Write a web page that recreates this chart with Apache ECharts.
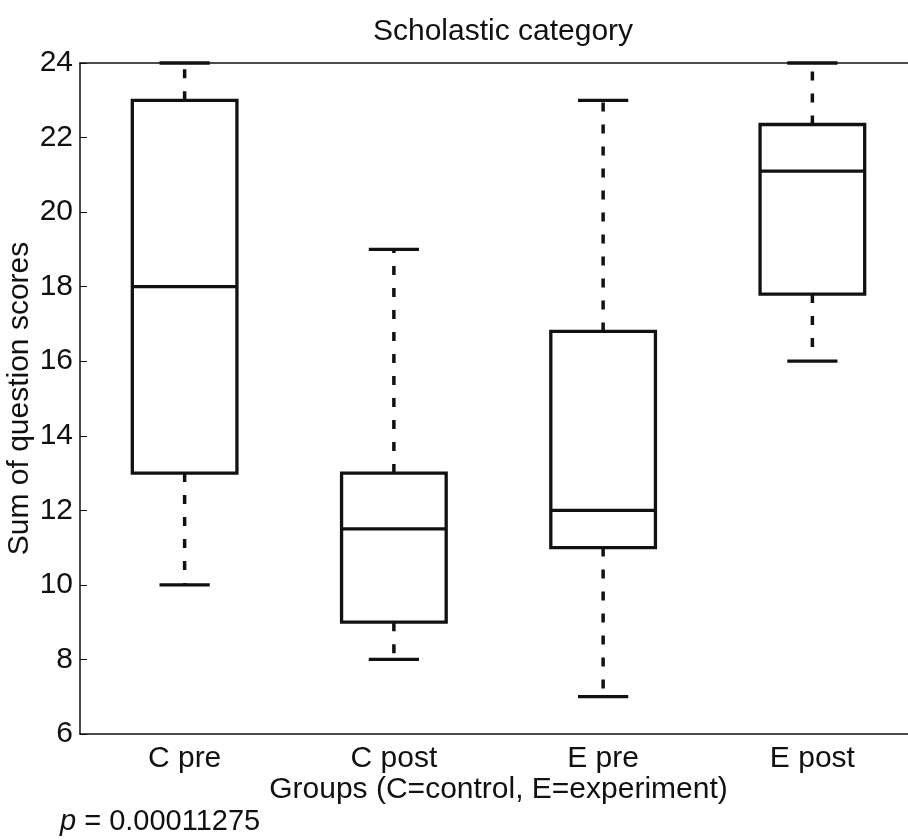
<!DOCTYPE html>
<html>
<head>
<meta charset="utf-8">
<script src="https://cdn.jsdelivr.net/npm/echarts@6/dist/echarts.min.js"></script>
<style>html,body{margin:0;padding:0;background:#fff;}#chart{width:908px;height:840px;}</style>
</head>
<body>
<div id="chart"></div>
<script>
var categories = ['C pre', 'C post', 'E pre', 'E post'];
var lowerWhisker = [10, 8, 7, 16];
var q1 = [13, 9, 11, 17.8];
var median = [18, 11.5, 12, 21.1];
var q3 = [23, 13, 16.8, 22.35];
var upperWhisker = [24, 19, 23, 24];
var yTicks = [6, 8, 10, 12, 14, 16, 18, 20, 22, 24];
var pText = '0.00011275';

var FONT = 'Liberation Sans, Arial, Helvetica, sans-serif';
var INK = '#111';

var data = categories.map(function (c, i) {
  return [i, lowerWhisker[i], q1[i], median[i], q3[i], upperWhisker[i]];
});

var chart = echarts.init(document.getElementById('chart'), null, {renderer: 'canvas'});

function renderBox(params, api) {
  var idx = api.value(0);
  var band = api.size([1, 0])[0];
  var half = band * 0.25;
  var capHalf = band * 0.12;
  var pLow = api.coord([idx, api.value(1)]);
  var pQ1 = api.coord([idx, api.value(2)]);
  var pMed = api.coord([idx, api.value(3)]);
  var pQ3 = api.coord([idx, api.value(4)]);
  var pHigh = api.coord([idx, api.value(5)]);
  var x = pQ1[0];
  var solid = {stroke: INK, lineWidth: 3.3, fill: null};
  var dashed = {stroke: INK, lineWidth: 3.5, lineDash: [9, 13], fill: null};
  return {
    type: 'group',
    children: [
      {type: 'line', shape: {x1: x, y1: pQ3[1], x2: x, y2: pHigh[1]}, style: dashed},
      {type: 'line', shape: {x1: x, y1: pQ1[1], x2: x, y2: pLow[1]}, style: dashed},
      {type: 'line', shape: {x1: x - capHalf, y1: pHigh[1], x2: x + capHalf, y2: pHigh[1]}, style: solid},
      {type: 'line', shape: {x1: x - capHalf, y1: pLow[1], x2: x + capHalf, y2: pLow[1]}, style: solid},
      {type: 'rect', shape: {x: x - half, y: pQ3[1], width: half * 2, height: pQ1[1] - pQ3[1]}, style: solid},
      {type: 'line', shape: {x1: x - half, y1: pMed[1], x2: x + half, y2: pMed[1]}, style: solid}
    ]
  };
}

var option = {
  backgroundColor: '#ffffff',
  animation: false,
  title: {
    text: 'Scholastic category',
    left: 498,
    top: 12,
    textAlign: 'center',
    textStyle: {fontFamily: FONT, fontSize: 30, fontWeight: 'normal', color: INK}
  },
  grid: {left: 80, top: 63, width: 837, height: 671, containLabel: false, outerBoundsMode: 'none'},
  xAxis: [{
    type: 'category',
    data: categories,
    boundaryGap: true,
    position: 'bottom',
    name: 'Groups (C=control, E=experiment)',
    nameLocation: 'middle',
    nameGap: 41,
    nameMoveOverlap: false,
    nameTextStyle: {fontFamily: FONT, fontSize: 30, color: INK},
    axisLine: {lineStyle: {color: INK, width: 1.5}},
    axisTick: {inside: true, length: 7, alignWithLabel: true, lineStyle: {color: INK, width: 1}},
    axisLabel: {fontFamily: FONT, fontSize: 30, color: INK, margin: 10, interval: 0},
    splitLine: {show: false}
  }, {
    type: 'category',
    data: categories,
    boundaryGap: true,
    position: 'top',
    axisLine: {lineStyle: {color: INK, width: 1.5}},
    axisTick: {inside: true, length: 7, alignWithLabel: true, lineStyle: {color: INK, width: 1}},
    axisLabel: {show: false},
    splitLine: {show: false}
  }],
  yAxis: [{
    type: 'value',
    min: yTicks[0],
    max: yTicks[yTicks.length - 1],
    interval: 2,
    name: 'Sum of question scores',
    nameLocation: 'middle',
    nameGap: 45,
    nameRotate: 90,
    nameMoveOverlap: false,
    nameTextStyle: {fontFamily: FONT, fontSize: 30, color: INK},
    axisLine: {show: true, lineStyle: {color: INK, width: 1.5}},
    axisTick: {show: true, inside: true, length: 7, lineStyle: {color: INK, width: 1}},
    axisLabel: {fontFamily: FONT, fontSize: 30, color: INK, margin: 7},
    splitLine: {show: false}
  }],
  series: [{
    type: 'custom',
    renderItem: renderBox,
    encode: {x: 0, y: [1, 2, 3, 4, 5]},
    data: data,
    clip: false
  }],
  graphic: [{
    type: 'text',
    left: 60,
    top: 807,
    style: {
      text: '{i|p} = ' + pText,
      fontFamily: FONT,
      fontSize: 29,
      fill: INK,
      rich: {i: {fontStyle: 'italic', fontFamily: FONT, fontSize: 29, fill: INK}}
    }
  }]
};
chart.setOption(option);
</script>
</body>
</html>
